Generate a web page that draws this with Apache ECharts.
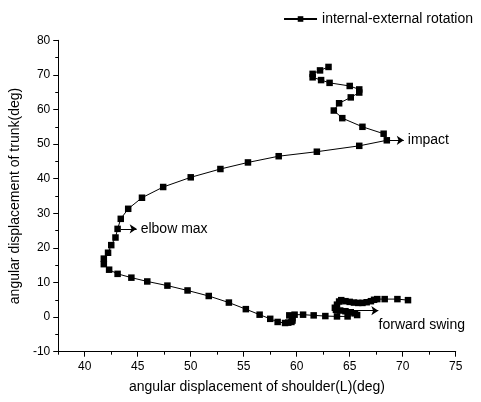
<!DOCTYPE html>
<html>
<head>
<meta charset="utf-8">
<script src="https://cdn.jsdelivr.net/npm/echarts@6/dist/echarts.min.js"></script>
<style>html,body{margin:0;padding:0;background:#fff;}#c{width:481px;height:402px;}</style>
</head>
<body>
<div id="c"></div>
<script>
// shoulder (L) angular displacement (deg), in drawing order
var shoulderAngles = [70.5,69.5,68.3,67.6,67.3,67.0,66.6,66.2,65.8,65.4,65.0,64.6,64.2,64.0,63.8,63.6,63.7,64.1,64.6,65.1,65.5,65.7,64.8,63.8,62.7,61.6,60.6,59.8,59.3,59.6,59.6,59.5,59.2,58.9,58.2,57.5,56.5,55.2,53.6,51.7,49.7,47.8,45.9,44.4,43.1,42.3,41.8,41.8,42.2,42.5,42.9,43.1,43.4,44.1,45.4,47.4,50.0,52.8,55.4,58.3,61.9,65.9,68.5,68.2,66.2,64.3,63.5,64.0,65.1,65.9,65.9,65.0,63.1,62.3,61.5,61.5,62.2,63.0];
// trunk angular displacement (deg)
var trunkAngles = [4.9,5.2,5.2,5.2,5.0,4.6,4.3,4.1,4.1,4.2,4.4,4.6,4.9,4.5,3.6,2.7,2.1,1.9,1.7,1.4,1.1,0.6,0.2,0.2,0.3,0.5,0.7,0.7,0.5,-0.3,-1.0,-1.4,-1.6,-1.7,-1.4,-0.5,0.7,2.3,4.2,6.1,7.7,9.1,10.3,11.4,12.5,13.7,15.3,16.9,18.6,20.8,23.0,25.5,28.4,31.3,34.5,37.6,40.4,42.8,44.7,46.5,47.8,49.5,51.1,53.0,55.0,57.5,59.7,61.8,63.5,64.9,65.8,66.8,67.7,68.5,69.3,70.3,71.3,72.3];
var xMajorTicks = [40,45,50,55,60,65,70,75];
var seriesName = 'internal-external rotation';
// annotations: [label, fromX, fromY, toX, toY]
var arrowNotes = [
  ['impact', 68.8, 51.1, 70.1, 51.1],
  ['elbow max', 43.4, 25.5, 44.9, 25.5],
  ['', 64.4, 1.85, 67.7, 1.85]
];
var textNotes = [['forward swing', 71.8, -2.4]];

var points = shoulderAngles.map(function (x, i) { return [x, trunkAngles[i]]; });
var FONT = 'Liberation Sans, Arial, sans-serif';

var chart = echarts.init(document.getElementById('c'), null, {renderer: 'canvas'});
chart.setOption({
  animation: false,
  backgroundColor: '#fff',
  textStyle: {fontFamily: FONT, color: '#000'},
  legend: {
    right: 3, top: 7,
    itemWidth: 33, itemHeight: 7, itemGap: 5,
    textStyle: {fontSize: 14, color: '#000', fontFamily: FONT},
    data: [seriesName]
  },
  grid: {left: 56.7, right: 25.3, top: 40.3, bottom: 50.3, containLabel: false},
  xAxis: [{
    type: 'value', min: 37.5, max: 75, interval: 2.5,
    name: 'angular displacement of shoulder(L)(deg)', nameLocation: 'middle', nameGap: 28,
    nameTextStyle: {fontSize: 14, color: '#000', fontFamily: FONT},
    axisLine: {show: true, onZero: false, lineStyle: {color: '#000', width: 1}},
    axisTick: {show: true, inside: false, length: 3, lineStyle: {color: '#000'}},
    axisLabel: {show: true, fontSize: 12, color: '#000', margin: 9, fontFamily: FONT,
      formatter: function (v) { return (v % 5 === 0) ? String(v) : ''; }},
    splitLine: {show: false}
  }, {
    type: 'value', min: 37.5, max: 75, position: 'bottom',
    axisLine: {show: false, onZero: false},
    axisTick: {show: true, length: 5, customValues: xMajorTicks, lineStyle: {color: '#000'}},
    axisLabel: {show: false},
    splitLine: {show: false}
  }],
  yAxis: {
    type: 'value', min: -10, max: 80, interval: 10,
    name: 'angular displacement of trunk(deg)', nameLocation: 'middle', nameGap: 33,
    nameTextStyle: {fontSize: 14, color: '#000', fontFamily: FONT},
    axisLine: {show: true, onZero: false, lineStyle: {color: '#000', width: 1}},
    axisTick: {show: true, length: 5, lineStyle: {color: '#000'}},
    minorTick: {show: true, splitNumber: 2, length: 3, lineStyle: {color: '#000'}},
    axisLabel: {fontSize: 12, color: '#000', margin: 8, fontFamily: FONT},
    splitLine: {show: false}
  },
  series: [{
    name: seriesName,
    type: 'line',
    data: points,
    symbol: 'rect', symbolSize: 6.5,
    showSymbol: true,
    lineStyle: {color: '#000', width: 1},
    itemStyle: {color: '#000'},
    markLine: {
      silent: true,
      symbol: ['none', 'arrow'],
      symbolSize: 7,
      lineStyle: {color: '#000', width: 1, type: 'solid'},
      label: {show: true, position: 'end', distance: 4, color: '#000', fontSize: 14, fontFamily: FONT,
        formatter: function (p) { return p.name || ''; }},
      data: arrowNotes.map(function (a) {
        return [{name: a[0], coord: [a[1], a[2]], label: {show: a[0] !== ''}}, {coord: [a[3], a[4]]}];
      })
    },
    markPoint: {
      silent: true,
      symbol: 'circle', symbolSize: 0,
      label: {show: true, position: 'inside', color: '#000', fontSize: 14, fontFamily: FONT,
        formatter: function (p) { return p.name; }},
      data: textNotes.map(function (t) { return {name: t[0], coord: [t[1], t[2]]}; })
    }
  }]
});
</script>
</body>
</html>
